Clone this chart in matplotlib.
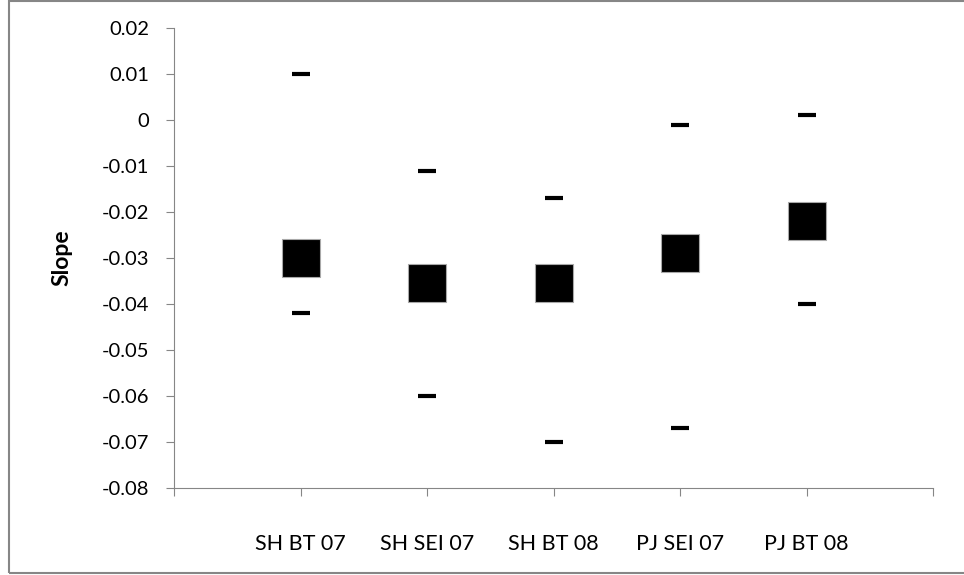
import numpy as np
import matplotlib.pyplot as plt
from matplotlib.patches import Rectangle

groups = ["SH BT 07", "SH SEI 07", "SH BT 08", "PJ SEI 07", "PJ BT 08"]
slope = [-0.030, -0.0355, -0.0355, -0.029, -0.022]
upper = [0.010, -0.011, -0.017, -0.001, 0.001]
lower = [-0.042, -0.060, -0.070, -0.067, -0.040]

plt.rcParams['font.family'] = ['Lato', 'DejaVu Sans']

fig = plt.figure(figsize=(9.64, 5.75), dpi=100)
ax = fig.add_axes([174 / 964, 1 - 488 / 575, (933 - 174) / 964, (488 - 28) / 575])

x = np.arange(1, len(groups) + 1)
ax.plot(x, upper, linestyle='none', marker='_', color='black', markersize=13, markeredgewidth=3)
ax.plot(x, lower, linestyle='none', marker='_', color='black', markersize=13, markeredgewidth=3)
ax.plot(x, slope, linestyle='none', marker='s', color='black', markersize=27,
        markeredgecolor='#a8a8a8', markeredgewidth=0.8)

ax.set_xlim(0, len(groups) + 1)
ax.set_ylim(-0.08, 0.02)
ax.set_yticks(np.arange(-0.08, 0.021, 0.01))
ax.set_yticklabels(['-0.08', '-0.07', '-0.06', '-0.05', '-0.04', '-0.03', '-0.02',
                    '-0.01', '0', '0.01', '0.02'])
ax.set_xticks(np.arange(0, len(groups) + 2))
ax.set_xticklabels([''] + groups + [''])

for side in ['top', 'right']:
    ax.spines[side].set_visible(False)
for side in ['left', 'bottom']:
    ax.spines[side].set_color('#868686')
ax.tick_params(axis='y', direction='out', length=6, color='#868686', labelsize=14.5, pad=12)
ax.tick_params(axis='x', direction='out', length=6, color='#868686', labelsize=15.5, pad=27)

ax.set_ylabel('Slope', fontsize=16.5, fontweight='bold', labelpad=21)

fig.patches.append(Rectangle((9 / 964, 2 / 575), 980 / 964, 572 / 575,
                             transform=fig.transFigure, fill=False,
                             edgecolor='#868686', linewidth=1.5))

fig.savefig('out.png', dpi=100)
